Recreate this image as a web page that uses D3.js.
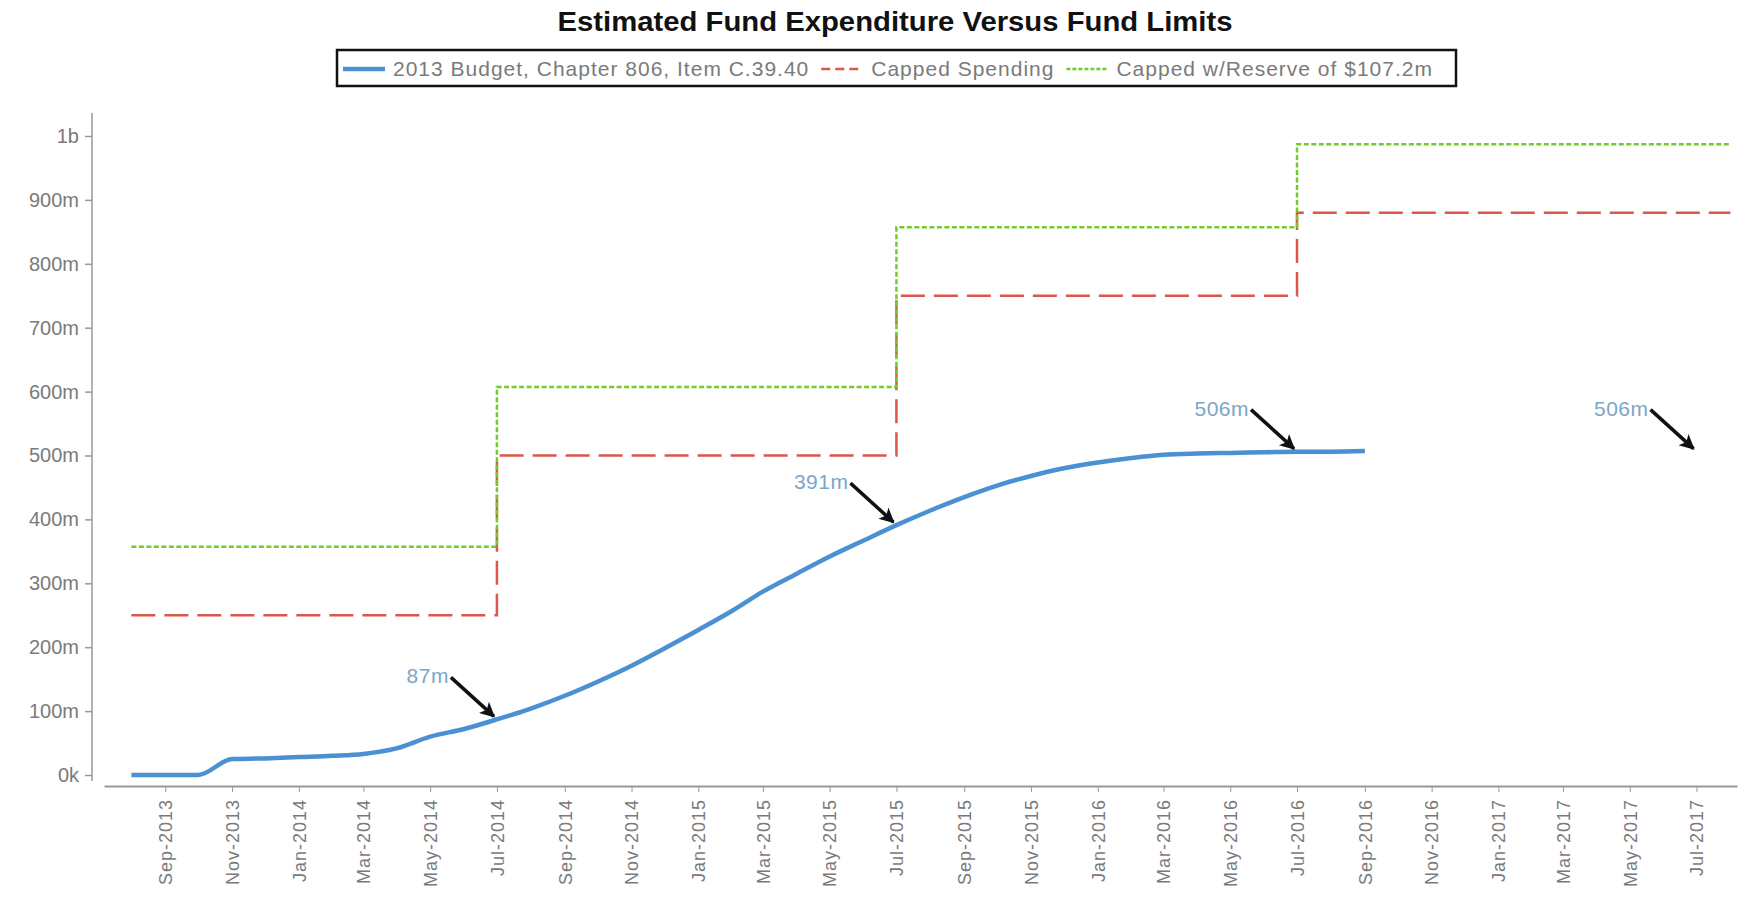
<!DOCTYPE html>
<html>
<head>
<meta charset="utf-8">
<script src="https://cdn.jsdelivr.net/npm/d3@7"></script>
<style>
  body { margin: 0; background: #fff; }
  svg { font-family: "Liberation Sans", Arial, sans-serif; }
</style>
</head>
<body>
<div id="chart"></div>
<script>
// spending curve, monthly
var spendMonths = ["2013-08", "2013-09", "2013-10", "2013-11", "2013-12",
    "2014-01", "2014-02", "2014-03", "2014-04", "2014-05", "2014-06", "2014-07",
    "2014-08", "2014-09", "2014-10", "2014-11", "2014-12",
    "2015-01", "2015-02", "2015-03", "2015-04", "2015-05", "2015-06", "2015-07",
    "2015-08", "2015-09", "2015-10", "2015-11", "2015-12",
    "2016-01", "2016-02", "2016-03", "2016-04", "2016-05", "2016-06", "2016-07",
    "2016-08", "2016-09"];
var spendValues = [0, 0, 0, 25, 26,
    28, 30, 33, 42, 60, 72, 87,
    104, 124, 146, 171, 198,
    227, 257, 287, 315, 342, 367, 391,
    414, 435, 453, 468, 480,
    489, 496, 501, 503, 504, 505, 506,
    506, 507]; // millions

// step limits
var capMonths = ["2013-08", "2014-07", "2015-07", "2016-07", "2017-08"];
var capValues = [250, 500, 750, 880, 880];
var reserveValues = [357.2, 607.2, 857.2, 987.2, 987.2];

var seriesNames = ["2013 Budget, Chapter 806, Item C.39.40", "Capped Spending", "Capped w/Reserve of $107.2m"];

var annoMonths = ["2014-07", "2015-07", "2016-07", "2017-07"];
var annoValues = [87, 391, 506, 506];
var annoLabels = ["87m", "391m", "506m", "506m"];

var yTicks = [0, 100, 200, 300, 400, 500, 600, 700, 800, 900, 1000];

var parseMonth = d3.timeParse("%Y-%m");
var blue = "#4a90d2", red = "#d9574b", green = "#6fcc2a", txt = "#7a7a7a";

var W = 1760, H = 900;
var svg = d3.select("#chart").append("svg")
    .attr("width", W)
    .attr("height", H);

var x = d3.scaleTime()
    .domain([new Date(2013, 6, 7), new Date(2017, 7, 7)])
    .range([104, 1737]);
var y = d3.scaleLinear()
    .domain([0, 1000])
    .range([775, 136]);

// title
svg.append("text")
    .attr("x", 895).attr("y", 31)
    .attr("text-anchor", "middle")
    .style("font-size", "27px")
    .style("font-weight", "bold")
    .attr("textLength", 675)
    .attr("lengthAdjust", "spacingAndGlyphs")
    .attr("fill", "#111")
    .text("Estimated Fund Expenditure Versus Fund Limits");

// legend
var legend = svg.append("g");
legend.append("rect")
    .attr("x", 337).attr("y", 50)
    .attr("width", 1119).attr("height", 36)
    .attr("fill", "#fff")
    .attr("stroke", "#111")
    .attr("stroke-width", 2.5);

var swatch = [
    {color: blue, width: 4.5, dash: null},
    {color: red, width: 2.5, dash: "9,5"},
    {color: green, width: 2.5, dash: "4,2"}
];
var lx = 343;
seriesNames.forEach(function(name, i) {
    legend.append("line")
        .attr("x1", lx).attr("x2", lx + 42)
        .attr("y1", 69).attr("y2", 69)
        .attr("stroke", swatch[i].color)
        .attr("stroke-width", swatch[i].width)
        .attr("stroke-dasharray", swatch[i].dash);
    var t = legend.append("text")
        .attr("x", lx + 50).attr("y", 76)
        .style("font-size", "21px")
        .style("letter-spacing", "1px")
        .attr("fill", txt)
        .text(name);
    lx += 50 + t.node().getComputedTextLength() + 12;
});

// y axis
var yAxis = svg.append("g")
    .attr("transform", "translate(92,0)")
    .call(d3.axisLeft(y)
        .tickValues(yTicks)
        .tickSize(7)
        .tickPadding(6)
        .tickFormat(function(d) { return d === 0 ? "0k" : d >= 1000 ? (d / 1000) + "b" : d + "m"; }));
yAxis.select(".domain").remove();
yAxis.append("line")
    .attr("y1", 113).attr("y2", 781)
    .attr("stroke", "#999").attr("stroke-width", 1.5);
yAxis.selectAll(".tick line").attr("stroke", "#999").attr("stroke-width", 1.5);
yAxis.selectAll(".tick text")
    .attr("fill", txt)
    .style("font-size", "20px")
    .style("font-family", "Liberation Sans, Arial, sans-serif");

// x axis
var xAxis = svg.append("g")
    .attr("transform", "translate(0,786)")
    .call(d3.axisBottom(x)
        .ticks(d3.timeMonth.every(2))
        .tickSize(6)
        .tickSizeOuter(0)
        .tickFormat(d3.timeFormat("%b-%Y")));
xAxis.select(".domain").attr("stroke", "#a0958a").attr("stroke-width", 2);
xAxis.selectAll(".tick line").attr("stroke", "#999");
xAxis.selectAll(".tick text")
    .attr("fill", txt)
    .style("font-size", "18px")
    .style("letter-spacing", "1px")
    .style("font-family", "Liberation Sans, Arial, sans-serif")
    .attr("text-anchor", "end")
    .attr("transform", "rotate(-90)")
    .attr("x", -13)
    .attr("y", 0)
    .attr("dy", "0.35em");

// limits
var stepLine = d3.line()
    .curve(d3.curveStepAfter)
    .x(function(d) { return x(d.date); })
    .y(function(d) { return y(d.value); });

var capData = capMonths.map(function(m, i) { return {date: parseMonth(m), value: capValues[i]}; });
var reserveData = capMonths.map(function(m, i) { return {date: parseMonth(m), value: reserveValues[i]}; });

svg.append("path")
    .datum(capData)
    .attr("d", stepLine)
    .attr("fill", "none")
    .attr("stroke", red)
    .attr("stroke-width", 2.5)
    .attr("stroke-dasharray", "24,9");

svg.append("path")
    .datum(reserveData)
    .attr("d", stepLine)
    .attr("fill", "none")
    .attr("stroke", green)
    .attr("stroke-width", 2.5)
    .attr("stroke-dasharray", "5,2.5");

// spending
var spendData = spendMonths.map(function(m, i) { return {date: parseMonth(m), value: spendValues[i]}; });
svg.append("path")
    .datum(spendData)
    .attr("d", d3.line()
        .curve(d3.curveMonotoneX)
        .x(function(d) { return x(d.date); })
        .y(function(d) { return y(d.value); }))
    .attr("fill", "none")
    .attr("stroke", blue)
    .attr("stroke-width", 4.5)
    .attr("stroke-linejoin", "round");

// annotations
svg.append("defs").append("marker")
    .attr("id", "arrow")
    .attr("viewBox", "0 0 10 10")
    .attr("refX", 9).attr("refY", 5)
    .attr("markerUnits", "userSpaceOnUse")
    .attr("markerWidth", 17).attr("markerHeight", 15)
    .attr("orient", "auto")
    .append("path")
    .attr("d", "M0,0 L10,5 L0,10 L2.5,5 z")
    .attr("fill", "#111");

annoMonths.forEach(function(m, i) {
    var px = x(parseMonth(m)), py = y(annoValues[i]);
    var g = svg.append("g");
    g.append("line")
        .attr("x1", px - 46).attr("y1", py - 42)
        .attr("x2", px - 3).attr("y2", py - 3)
        .attr("stroke", "#111")
        .attr("stroke-width", 3.5)
        .attr("marker-end", "url(#arrow)");
    g.append("text")
        .attr("x", px - 48).attr("y", py - 36)
        .attr("text-anchor", "end")
        .style("font-size", "21px")
        .style("letter-spacing", "0.5px")
        .attr("fill", "#7ba6c8")
        .text(annoLabels[i]);
});
</script>
</body>
</html>
